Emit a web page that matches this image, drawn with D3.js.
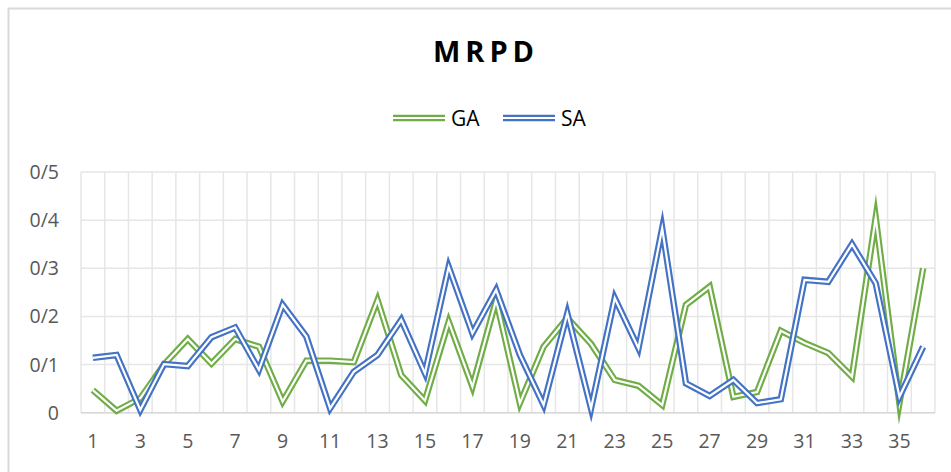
<!DOCTYPE html>
<html><head><meta charset="utf-8">
<script src="https://cdn.jsdelivr.net/npm/d3@7"></script>
<style>body{margin:0;background:#fff}svg{display:block}</style>
</head><body>
<svg id="c" width="951" height="472"></svg>
<script>
const categories = d3.range(1, 37);
const GA = [0.047,0.004,0.03,0.10,0.153,0.102,0.153,0.137,0.023,0.108,0.108,0.105,0.234,0.078,0.025,0.189,0.054,0.234,0.02,0.137,0.197,0.143,0.068,0.056,0.016,0.224,0.262,0.033,0.043,0.17,0.145,0.124,0.075,0.405,0.02,0.30];
const SA = [0.114,0.12,0.006,0.101,0.097,0.157,0.177,0.089,0.224,0.158,0.009,0.085,0.12,0.193,0.082,0.303,0.165,0.255,0.12,0.016,0.206,0.009,0.238,0.134,0.383,0.061,0.035,0.068,0.02,0.028,0.276,0.272,0.35,0.269,0.033,0.137];
const yTicks = [0,0.1,0.2,0.3,0.4,0.5];
const yTickLabels = ["0","0/1","0/2","0/3","0/4","0/5"];
const xTickLabels = categories.filter(d => d % 2 === 1).map(String);
const seriesNames = ["GA","SA"];
const colors = ["#70AD47","#4472C4"];

const svg = d3.select("#c");
const font = "'Open Sans', 'Noto Sans', sans-serif";
// chart border
svg.append("path").attr("d","M8.5,472 V8.5 H951").attr("fill","none").attr("stroke","#d9d9d9").attr("stroke-width",2);

const L=81, R=935, T=172, B=412.7;
const x = d3.scaleBand().domain(categories).range([L,R]);
const y = d3.scaleLinear().domain([0,0.5]).range([B,T]);

// gridlines
const g = svg.append("g");
g.selectAll(".hg").data(yTicks).join("line")
  .attr("x1",L).attr("x2",R).attr("y1",d=>y(d)).attr("y2",d=>y(d))
  .attr("stroke","#e6e6e6").attr("stroke-width",1.5);
g.selectAll(".vg").data(categories.concat([null])).join("line")
  .attr("x1",(d,i)=>L+i*x.bandwidth()).attr("x2",(d,i)=>L+i*x.bandwidth())
  .attr("y1",T).attr("y2",B)
  .attr("stroke","#e6e6e6").attr("stroke-width",1.5);
svg.append("line").attr("x1",L).attr("x2",R).attr("y1",B).attr("y2",B).attr("stroke","#d9d9d9").attr("stroke-width",1.5);

// y labels
svg.selectAll(".yl").data(yTicks).join("text")
  .attr("x",59).attr("y",d=>y(d)+7).attr("text-anchor","end")
  .attr("font-family",font).attr("font-size",19.5).attr("fill","#595959")
  .text((d,i)=>yTickLabels[i]);
// x labels
svg.selectAll(".xl").data(xTickLabels).join("text")
  .attr("x",d=>x(+d)+x.bandwidth()/2).attr("y",448).attr("text-anchor","middle")
  .attr("font-family",font).attr("font-size",19.5).attr("fill","#595959")
  .text(d=>d);

// lines (double compound style)
const line = d3.line().x((d,i)=>x(categories[i])+x.bandwidth()/2).y(d=>y(d));
[GA,SA].forEach((s,k)=>{
  svg.append("path").attr("d",line(s)).attr("fill","none")
    .attr("stroke",colors[k]).attr("stroke-width",6.5)
    .attr("stroke-linejoin","miter").attr("stroke-miterlimit",10);
  svg.append("path").attr("d",line(s)).attr("fill","none")
    .attr("stroke","#fff").attr("stroke-width",2.2)
    .attr("stroke-linejoin","miter").attr("stroke-miterlimit",10);
});

// title
svg.append("text").attr("x",486).attr("y",62).attr("text-anchor","middle")
  .attr("font-family",font).attr("font-weight","bold").attr("font-size",29)
  .attr("letter-spacing",5).attr("fill","#000").text("MRPD");

// legend
const legX = [393,503];
seriesNames.forEach((n,k)=>{
  svg.append("line").attr("x1",legX[k]).attr("x2",legX[k]+52).attr("y1",118).attr("y2",118)
    .attr("stroke",colors[k]).attr("stroke-width",6.5);
  svg.append("line").attr("x1",legX[k]).attr("x2",legX[k]+52).attr("y1",118).attr("y2",118)
    .attr("stroke","#fff").attr("stroke-width",2.2);
  svg.append("text").attr("x",legX[k]+58).attr("y",126)
    .attr("font-family",font).attr("font-size",21).attr("fill","#000").text(n);
});
</script>
</body></html>
